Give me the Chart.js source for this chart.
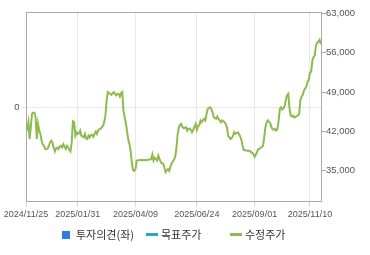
<!DOCTYPE html>
<html><head><meta charset="utf-8">
<script src="https://cdn.jsdelivr.net/npm/chart.js@4/dist/chart.umd.min.js"></script>
<style>
html,body{margin:0;padding:0;background:#fff;overflow:hidden}
#wrap{position:relative;width:370px;height:255px}
canvas{position:absolute;left:0;top:0}
#legend{position:absolute;left:62px;top:226px;display:flex;font:11px "Noto Sans CJK KR";color:#333;line-height:17px}
#legend .it{width:84px;display:flex;align-items:center;white-space:nowrap}
#legend .sq{width:8px;height:8px;margin-right:6px}
#legend .ln{width:12px;height:2.5px;margin-right:3px}
</style></head><body>
<div id="wrap"><canvas id="c" width="370" height="255"></canvas><div id="legend"></div></div>
<script>
// x tick positions (trading-day index) and labels
const tickDays = [0, 43, 91, 142, 190, 236];
const tickLabels = ['2024/11/25','2025/01/31','2025/04/09','2025/06/24','2025/09/01','2025/11/10'];
const priceTicks = [35000, 42000, 49000, 56000, 63000];
const opinionTicks = [0];
const seriesNames = ['투자의견(좌)', '목표주가', '수정주가'];
const seriesColors = ['#2f7de1', '#21aabd', '#8cbb4f'];
const opinion = [];
const targetPrice = [];
// 수정주가, one value per trading day
const adjPrice = [
41850,42450,43650,40650,42800,45150,45350,45300,44550,40650,
43350,42150,41550,40350,39650,39450,38900,38850,38950,39450,
40100,40350,40000,39150,38450,39000,39150,38900,39300,39450,
39150,39750,39300,38900,39450,39150,38750,38450,40100,43800,
43650,41250,41850,41550,41650,42150,41250,41100,40950,41550,
40700,40650,41250,40950,41350,41400,41050,41600,42000,41550,
42150,42400,42450,42750,43000,43650,44800,47500,49000,48850,
48650,48500,48800,49000,48650,48400,48700,48650,48200,48800,
49000,45700,44500,43500,42000,40500,39750,38500,36300,35100,
35000,35300,36800,36900,36900,36950,36900,36900,36950,36900,
36900,36950,36950,37000,37100,37900,36800,37300,37100,36800,
37700,37150,36550,36300,36300,35600,34800,35100,35300,35000,
35700,36300,36600,37000,37500,39000,41500,42700,43200,43350,
42750,42600,42650,42750,42150,42450,42500,42300,41850,42300,
42750,43350,42300,43000,43100,43950,43650,44000,44250,43950,
45000,46000,46200,46300,46000,45450,44550,44350,44250,44650,
44200,43950,43650,43950,43800,43650,43350,42750,41200,40950,
40650,40850,41200,41850,41550,41700,41850,41550,41100,40500,
39450,38700,38700,38600,38550,38550,38550,38300,38250,37950,
37500,37900,38300,38850,38900,39100,39250,39450,41000,42800,
43650,43950,43700,43500,42750,42400,42300,42450,42150,42450,
44000,46050,46300,45900,46100,46550,47700,48450,48700,46000,
44800,44650,44800,44500,44600,44700,44850,45100,47500,48200,
48500,49300,49600,50000,50800,51200,52450,52600,54600,55250,
55500,57300,57750,58000,58300,57500
];

const lg = document.getElementById('legend');
seriesNames.forEach((n, i) => {
  const it = document.createElement('div'); it.className = 'it';
  const m = document.createElement('span'); m.className = i === 0 ? 'sq' : 'ln';
  m.style.background = seriesColors[i];
  const t = document.createElement('span'); t.textContent = n;
  it.appendChild(m); it.appendChild(t); lg.appendChild(it);
});

const tickFont = {family: 'Liberation Sans', size: 9.5};
const frame = {
  id: 'frame',
  afterDraw(chart) {
    const a = chart.chartArea, c = chart.ctx;
    c.save(); c.strokeStyle = '#aaaaaa'; c.lineWidth = 1;
    c.strokeRect(Math.round(a.left) + 0.5, Math.round(a.top) + 0.5,
      Math.round(a.right - a.left) - 1, Math.round(a.bottom - a.top) - 1);
    c.restore();
  }
};

new Chart(document.getElementById('c'), {
  type: 'line',
  data: {
    datasets: [
      {label: seriesNames[0], type: 'bar', data: opinion, yAxisID: 'yL', backgroundColor: seriesColors[0]},
      {label: seriesNames[1], data: targetPrice, yAxisID: 'y', borderColor: seriesColors[1], borderWidth: 2, pointRadius: 0},
      {label: seriesNames[2], data: adjPrice.map((v, i) => ({x: i, y: v})), yAxisID: 'y',
       borderColor: seriesColors[2], borderWidth: 2, pointRadius: 0, tension: 0}
    ]
  },
  options: {
    responsive: false, animation: false, devicePixelRatio: 1,
    layout: {padding: {top: 12, bottom: 33, left: 0, right: 0}},
    plugins: {legend: {display: false}, tooltip: {enabled: false}},
    scales: {
      x: {
        type: 'linear', min: 0, max: 246, offset: false,
        afterBuildTicks: s => { s.ticks = tickDays.map(v => ({value: v})); },
        ticks: {callback: (v, i) => tickLabels[i], maxRotation: 0, minRotation: 0, autoSkip: false,
                font: {family: 'Liberation Sans', size: 9}, color: '#555', padding: 2},
        grid: {color: '#e8e8e8', tickColor: '#d8d8d8', tickLength: 5, offset: false},
        border: {display: false},
        afterFit: s => { s.height = 20; s.paddingLeft = 0; s.paddingRight = 0; }
      },
      yL: {
        position: 'left', min: -1, max: 1,
        afterBuildTicks: s => { s.ticks = opinionTicks.map(v => ({value: v})); },
        ticks: {font: tickFont, color: '#555', padding: 2.5},
        grid: {color: '#e8e8e8', tickColor: '#e0e0e0', tickLength: 4},
        border: {display: false},
        afterFit: s => { s.width = 26; s.paddingTop = 0; s.paddingBottom = 0; }
      },
      y: {
        position: 'right', min: 29460, max: 63230,
        afterBuildTicks: s => { s.ticks = priceTicks.map(v => ({value: v})); },
        ticks: {font: tickFont, color: '#555', padding: 0, callback: v => v.toLocaleString('en-US')},
        grid: {drawOnChartArea: false, tickColor: '#aaaaaa', tickLength: 4},
        border: {display: false},
        afterFit: s => { s.width = 48; s.paddingTop = 0; s.paddingBottom = 0; }
      }
    }
  },
  plugins: [frame]
});
</script>
</body></html>
